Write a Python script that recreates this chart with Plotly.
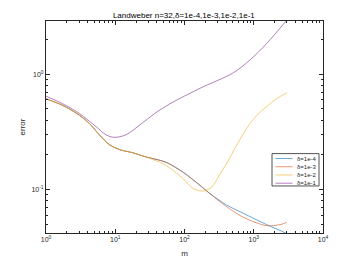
import plotly.graph_objects as go

# data
m_common = [1, 1.742, 3.026, 4.217, 5.885, 8.2, 11.44, 17.86, 27.8, 38.8, 55.3, 96.1, 167.4, 233.5]
err_common = [0.6125, 0.537, 0.4417, 0.3753, 0.2985, 0.2454, 0.2224, 0.2085, 0.1917, 0.1829, 0.1714, 0.1409, 0.1086, 0.0921]

m_tail = [406, 706, 1538, 2535, 2990]
err_blue_tail = [0.0734, 0.0622, 0.0496, 0.0435, 0.0414]
err_orange_tail = [0.0710, 0.0575, 0.0486, 0.0500, 0.0519]

m_yellow = [1, 1.742, 3.026, 4.217, 5.885, 8.2, 11.44, 17.86, 27.8, 31.7, 55.3, 96.1, 134, 186.8, 247, 325.6, 454, 507, 791, 1104, 1538, 2145, 2990]
err_yellow = [0.6125, 0.537, 0.4417, 0.3753, 0.2985, 0.2454, 0.2224, 0.2085, 0.1917, 0.1866, 0.1607, 0.1236, 0.1016, 0.0971, 0.1050, 0.1363, 0.189, 0.215, 0.34, 0.44, 0.525, 0.615, 0.689]

m_purple = [1, 1.742, 3.026, 5.27, 7.35, 9.7, 14.3, 22.2, 38.8, 61.8, 167, 507, 883, 1538, 2990]
err_purple = [0.646, 0.555, 0.457, 0.352, 0.2985, 0.2836, 0.2985, 0.36, 0.465, 0.555, 0.755, 1.03, 1.33, 1.85, 2.94]

names = ["δ=1e-4", "δ=1e-3", "δ=1e-2", "δ=1e-1"]
colors = ["rgba(0,114,189,0.6)", "rgba(217,83,25,0.6)", "rgba(237,177,32,0.6)", "rgba(126,47,142,0.6)"]

x_blue = m_common + m_tail
y_blue = err_common + err_blue_tail
x_orange = m_common + m_tail
y_orange = err_common + err_orange_tail

fig = go.Figure()
series = [(x_blue, y_blue), (x_orange, y_orange), (m_yellow, err_yellow), (m_purple, err_purple)]
for (xs, ys), nm, c in zip(series, names, colors):
    fig.add_trace(go.Scatter(x=xs, y=ys, mode="lines", name=nm, showlegend=False,
                             line=dict(color=c, width=1, shape="spline", smoothing=0.9)))

font = "Liberation Sans, Arial, sans-serif"
xminor = [k * 10 ** d for d in range(0, 4) for k in range(2, 10)]
yminor = [k * 10 ** d for d in (-2, -1, 0) for k in range(2, 10)]

axcommon = dict(type="log", showgrid=False, zeroline=False, showline=True, mirror="ticks",
                linecolor="#262626", linewidth=1, ticks="inside", ticklen=4, tickcolor="#262626",
                tickfont=dict(family=font, size=7, color="#262626"))

fig.update_xaxes(**axcommon, range=[0, 4],
                 tickvals=[1, 10, 100, 1000, 10000],
                 ticktext=["10<sup>0</sup>", "10<sup>1</sup>", "10<sup>2</sup>", "10<sup>3</sup>", "10<sup>4</sup>"],
                 minor=dict(tickvals=xminor, ticks="inside", ticklen=2, tickcolor="#262626"),
                 title=dict(text="m", font=dict(family=font, size=8, color="#262626"), standoff=7))
fig.update_yaxes(**axcommon, range=[-1.377, 0.462],
                 tickvals=[0.1, 1],
                 ticktext=["10<sup>-1</sup>", "10<sup>0</sup>"],
                 minor=dict(tickvals=yminor, ticks="inside", ticklen=2, tickcolor="#262626"),
                 title=dict(text="error", font=dict(family=font, size=8, color="#262626"), standoff=4))

# custom compact legend (box, sample lines, labels) in paper coordinates
PW, PH = 277.0, 216.3
def px(xp):
    return (xp - 46) / PW
def py(yp):
    return (237 - yp) / PH

shapes = [dict(type="rect", xref="paper", yref="paper", x0=px(272), x1=px(319), y0=py(189), y1=py(156),
               line=dict(color="#262626", width=0.8), fillcolor="white", layer="above")]
annotations = []
for i, (nm, c) in enumerate(zip(names, colors)):
    yy = 161 + i * 8.4
    shapes.append(dict(type="line", xref="paper", yref="paper", x0=px(275.5), x1=px(292.5),
                       y0=py(yy), y1=py(yy), line=dict(color=c, width=1), layer="above"))
    annotations.append(dict(xref="paper", yref="paper", x=px(294.5), y=py(yy), text=nm,
                            showarrow=False, xanchor="left", yanchor="middle",
                            font=dict(family=font, size=6, color="#262626")))

fig.update_layout(
    width=357, height=268,
    margin=dict(l=46, r=34, t=21, b=31),
    plot_bgcolor="white", paper_bgcolor="white",
    title=dict(text="Landweber n=32,δ=1e-4,1e-3,1e-2,1e-1", x=0.515, xanchor="center",
               y=0.945, yanchor="middle", font=dict(family=font, size=8, color="#000000")),
    shapes=shapes, annotations=annotations,
    showlegend=False,
)

fig.write_html("out.html", config={"displayModeBar": False},
               post_script="document.body.style.margin='0';document.body.style.overflow='hidden';")
